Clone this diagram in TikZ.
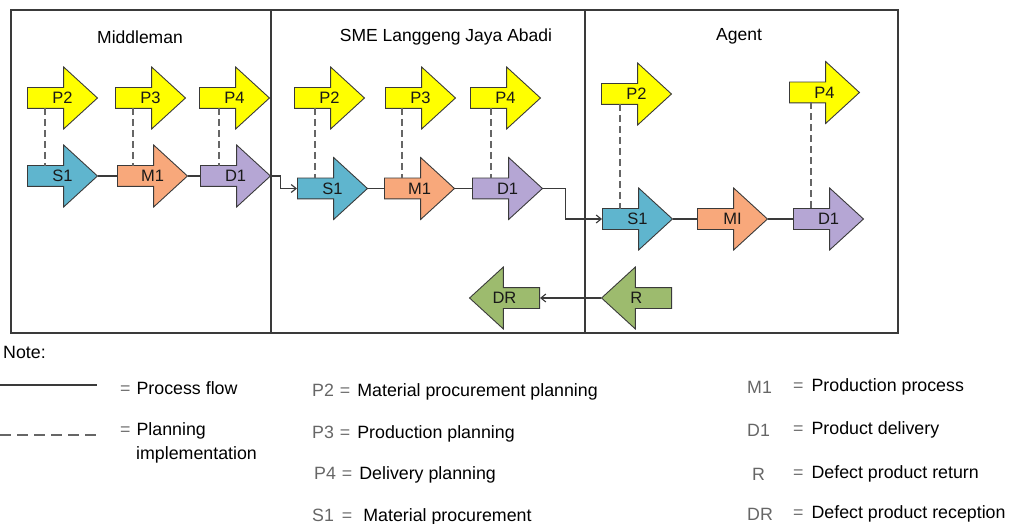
\documentclass[tikz,border=0pt]{standalone}
\usepackage{fontspec}
\setmainfont{Liberation Sans}
\usetikzlibrary{shapes.arrows,arrows.meta,calc}
\definecolor{ylw}{HTML}{FFFF00}
\definecolor{blu}{HTML}{5FB5CE}
\definecolor{org}{HTML}{F8A87B}
\definecolor{prp}{HTML}{B5A6D4}
\definecolor{grn}{HTML}{9DBB6E}
\definecolor{edge}{HTML}{3A3A3A}
\newcommand{\eqs}{\textcolor{black!55}{=}}

\begin{document}
\begin{tikzpicture}[x=1pt,y=-1pt,>={Straight Barb[length=5pt,width=8pt]},
  blk/.style={single arrow, draw=edge, line width=0.9pt, inner sep=10pt,
    minimum height=70pt, single arrow head extend=20.5pt,
    single arrow tip angle=85, anchor=tail},
  back/.style={blk, shape border rotate=180},
  lbl/.style={font=\fontsize{16.5}{17}\selectfont, text=black!90},
  flow/.style={draw=edge, line width=1.1pt},
  plan/.style={draw=black!60, line width=1.2pt, dash pattern=on 7pt off 4pt},
  ttl/.style={font=\fontsize{17.5}{19}\selectfont},
  note/.style={font=\fontsize{17.8}{20}\selectfont, anchor=west, inner sep=0pt},
  code/.style={note, text=black!60}]
  \useasboundingbox (0,0) rectangle (1010,524);

%   the three parties
\draw[edge, line width=1.4pt] (11,10) rectangle (898,333);
\draw[edge, line width=1.4pt] (271,10) -- (271,333);
\draw[edge, line width=1.4pt] (585,10) -- (585,333);
\node[ttl] (t_m) at (140,37) {Middleman};
\node[ttl] (t_s) at (446,37) {SME Langgeng Jaya Abadi};
\node[ttl] (t_a) at (739,36) {Agent};

% Middleman
\node[blk, fill=ylw] (m_p2) at (27,98) {};
\node[blk, fill=ylw] (m_p3) at (115,98) {};
\node[blk, fill=ylw] (m_p4) at (199,98) {};
\node[blk, fill=blu] (m_s1) at (27,176) {};
\node[blk, fill=org] (m_m1) at (117,176) {};
\node[blk, fill=prp] (m_d1) at (200,176) {};

% SME
\node[blk, fill=ylw] (s_p2) at (294,98) {};
\node[blk, fill=ylw] (s_p3) at (385,98) {};
\node[blk, fill=ylw] (s_p4) at (470,98) {};
\node[blk, fill=blu] (s_s1) at (297,188.5) {};
\node[blk, fill=org] (s_m1) at (384,188.5) {};
\node[blk, fill=prp] (s_d1) at (472,188.5) {};
\node[back, fill=grn] (s_dr) at (540,298) {};

% Agent
\node[blk, fill=ylw] (a_p2) at (601,94) {};
\node[blk, fill=ylw] (a_p4) at (789,92.5) {};
\node[blk, fill=blu] (a_s1) at (602,219) {};
\node[blk, fill=org] (a_m1) at (697,219) {};
\node[blk, fill=prp] (a_d1) at (793,219) {};
\node[back, fill=grn] (a_r) at (672,298) {};

\foreach \n/\t in {m_p2/P2,m_p3/P3,m_p4/P4,m_s1/S1,m_m1/M1,m_d1/D1,
    s_p2/P2,s_p3/P3,s_p4/P4,s_s1/S1,s_m1/M1,s_d1/D1,s_dr/DR,
    a_p2/P2,a_p4/P4,a_s1/S1,a_m1/MI,a_d1/D1,a_r/R}
  \node[lbl] (\n_t) at ($(\n.tail)!0.5!(\n.tip)$) {\t};

% planning -> process
\foreach \p/\s/\dx in {m_p2/m_s1/18,m_p3/m_m1/18,m_p4/m_d1/20,
    s_p2/s_s1/21,s_p3/s_m1/17,s_p4/s_d1/21,a_p2/a_s1/19,a_p4/a_d1/22}
  \draw[plan] ($(\p.tail)+(\dx,10)$) coordinate (pa) -- ($(pa |- \s.tail)+(0,-10)$);

% process flow
\draw[flow] (m_s1.tip) -- (m_m1.tail);
\draw[flow] (m_m1.tip) -- (m_d1.tail);
\draw[flow,->] (m_d1.tip) -- ++(9,0) |- (s_s1.tail);
\draw[flow] (s_s1.tip) -- (s_m1.tail);
\draw[flow] (s_m1.tip) -- (s_d1.tail);
\draw[flow,->] (s_d1.tip) -- ++(22,0) |- (a_s1.tail);
\draw[flow] (a_s1.tip) -- (a_m1.tail);
\draw[flow] (a_m1.tip) -- (a_d1.tail);
\draw[flow,->] (a_r.tip) -- (s_dr.tail);

% legend
\node[note] (note) at (3,352) {Note:};
\coordinate (k1a) at (0,385);
\coordinate (k1b) at (97,385);
\coordinate (k2a) at (0,435);
\coordinate (k2b) at (97,435);
\draw[flow] (k1a) -- (k1b);
\draw[plan, dash pattern=on 11pt off 6pt] (k2a) -- (k2b);
\node[note] (k1) at (120,388) {\eqs\hspace{6pt}Process flow};
\node[note] (k2) at (120,431) {\eqs\hspace{6pt}Planning};
\node[note] (k2x) at (136,455) {implementation};

\node[note] (c_p2) at (312,392) {\textcolor{black!60}{P2}\hspace{6pt}\eqs\hspace{7pt}Material procurement planning};
\node[note] (c_p3) at (312,434) {\textcolor{black!60}{P3}\hspace{6pt}\eqs\hspace{7pt}Production planning};
\node[note] (c_p4) at (314,475) {\textcolor{black!60}{P4}\hspace{6pt}\eqs\hspace{7pt}Delivery planning};
\node[note] (c_s1) at (312,517) {\textcolor{black!60}{S1}\hspace{8pt}\eqs\hspace{11pt}Material procurement};

\node[code] (c_m1) at (747,387) {M1};
\node[code] (c_d1) at (747,430) {D1};
\node[code] (c_r) at (752,474) {R};
\node[code] (c_dr) at (747,514) {DR};
\node[note] (d_m1) at (793,387) {\eqs\hspace{8pt}Production process};
\node[note] (d_d1) at (793,430) {\eqs\hspace{8pt}Product delivery};
\node[note] (d_r) at (793,474) {\eqs\hspace{8pt}Defect product return};
\node[note] (d_dr) at (793,514) {\eqs\hspace{8pt}Defect product reception};
\end{tikzpicture}
\end{document}
